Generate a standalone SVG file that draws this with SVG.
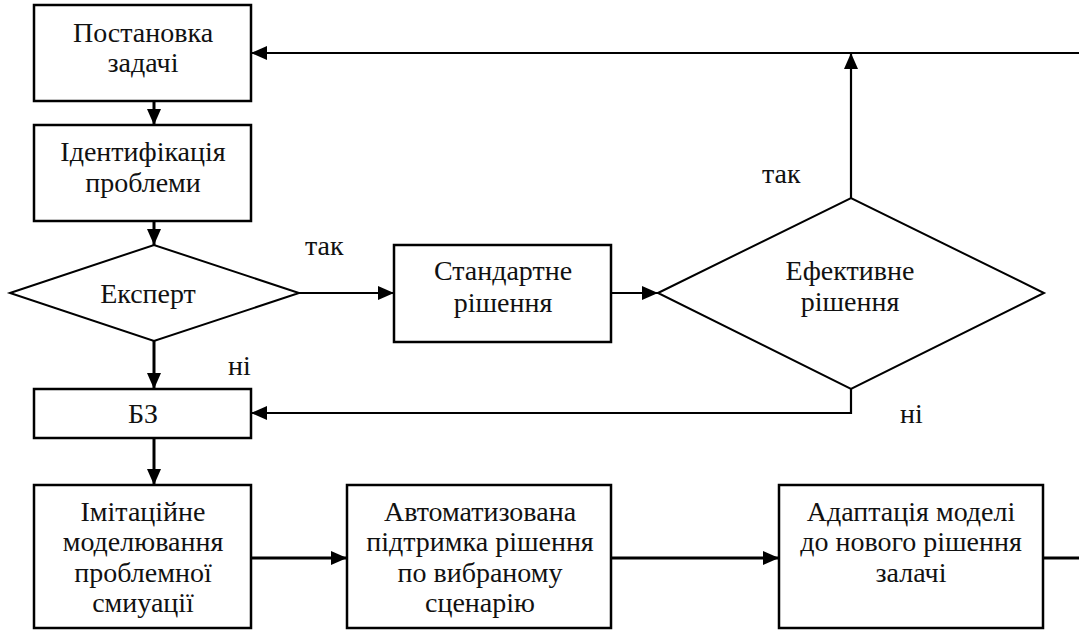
<svg xmlns="http://www.w3.org/2000/svg" width="1079" height="630" viewBox="0 0 1079 630">
<defs>
<style>
.box{fill:#fff;stroke:#000;stroke-width:2.5}
.dia{fill:#fff;stroke:#000;stroke-width:2}
.ln{fill:none;stroke:#000;stroke-width:2.2}
.lt{fill:none;stroke:#000;stroke-width:3}
</style>
<marker id="ah" markerUnits="userSpaceOnUse" markerWidth="16" markerHeight="16" refX="16" refY="8" orient="auto" viewBox="0 0 16 16">
<path d="M0,1 L16,8 L0,15 z" fill="#000"/>
</marker>
</defs>
<rect width="1079" height="630" fill="#fff"/>
<g id="connectors">
<line class="lt" x1="154" y1="101" x2="154" y2="125" marker-end="url(#ah)"/>
<line class="lt" x1="154" y1="221" x2="154" y2="245" marker-end="url(#ah)"/>
<line class="lt" x1="154" y1="341" x2="154" y2="389" marker-end="url(#ah)"/>
<line class="lt" x1="154" y1="438" x2="154" y2="485" marker-end="url(#ah)"/>
<line class="ln" x1="299" y1="293" x2="394" y2="293" marker-end="url(#ah)"/>
<line class="ln" x1="611" y1="293" x2="658" y2="293" marker-end="url(#ah)"/>
<line class="ln" x1="851" y1="198" x2="851" y2="53" marker-end="url(#ah)"/>
<line class="ln" x1="1079" y1="53" x2="251" y2="53" marker-end="url(#ah)"/>
<polyline class="ln" points="851,389 851,413 251,413" marker-end="url(#ah)"/>
<line class="lt" x1="251" y1="558" x2="347" y2="558" marker-end="url(#ah)"/>
<line class="lt" x1="611" y1="558" x2="779" y2="558" marker-end="url(#ah)"/>
<line class="lt" x1="1043" y1="558" x2="1079" y2="558"/>
</g>
<g font-family="'Times New Roman', 'Liberation Serif', 'DejaVu Serif', serif" font-size="28" fill="#111">
<g id="n-postanovka" text-anchor="middle">
<rect class="box" x="34" y="5" width="217" height="96"/>
<text x="143" y="42">Постановка</text>
<text x="143" y="72">задачі</text>
</g>
<g id="n-identyfikatsiia" text-anchor="middle">
<rect class="box" x="34" y="125" width="217" height="96"/>
<text x="143" y="161">Ідентифікація</text>
<text x="143" y="192">проблеми</text>
</g>
<g id="n-ekspert" text-anchor="middle">
<polygon class="dia" points="10,293 154,245 299,293 154,341"/>
<text x="148" y="303">Експерт</text>
</g>
<g id="n-bz" text-anchor="middle">
<rect class="box" x="34" y="389" width="217" height="49"/>
<text x="143" y="423">БЗ</text>
</g>
<g id="n-standartne" text-anchor="middle">
<rect class="box" x="394" y="245" width="217" height="97"/>
<text x="503" y="280">Стандартне</text>
<text x="503" y="312">рішення</text>
</g>
<g id="n-efektyvne" text-anchor="middle">
<polygon class="dia" points="658,293 851,198 1044,293 851,389"/>
<text x="850" y="280">Ефективне</text>
<text x="850" y="311">рішення</text>
</g>
<g id="n-imitatsiine" text-anchor="middle">
<rect class="box" x="34" y="485" width="217" height="143"/>
<text x="143" y="521">Імітаційне</text>
<text x="143" y="551">моделювання</text>
<text x="143" y="582">проблемної</text>
<text x="143" y="612">смиуації</text>
</g>
<g id="n-avtomatyzovana" text-anchor="middle">
<rect class="box" x="347" y="485" width="264" height="143"/>
<text x="480" y="521">Автоматизована</text>
<text x="480" y="551">підтримка рішення</text>
<text x="480" y="582">по вибраному</text>
<text x="480" y="612">сценарію</text>
</g>
<g id="n-adaptatsiia" text-anchor="middle">
<rect class="box" x="779" y="485" width="264" height="143"/>
<text x="911" y="521">Адаптація моделі</text>
<text x="911" y="551">до нового рішення</text>
<text x="911" y="582">залачі</text>
</g>
<g id="labels">
<text x="305" y="255">так</text>
<text x="228" y="375">ні</text>
<text x="762" y="183">так</text>
<text x="900" y="423">ні</text>
</g>
</g>
</svg>
